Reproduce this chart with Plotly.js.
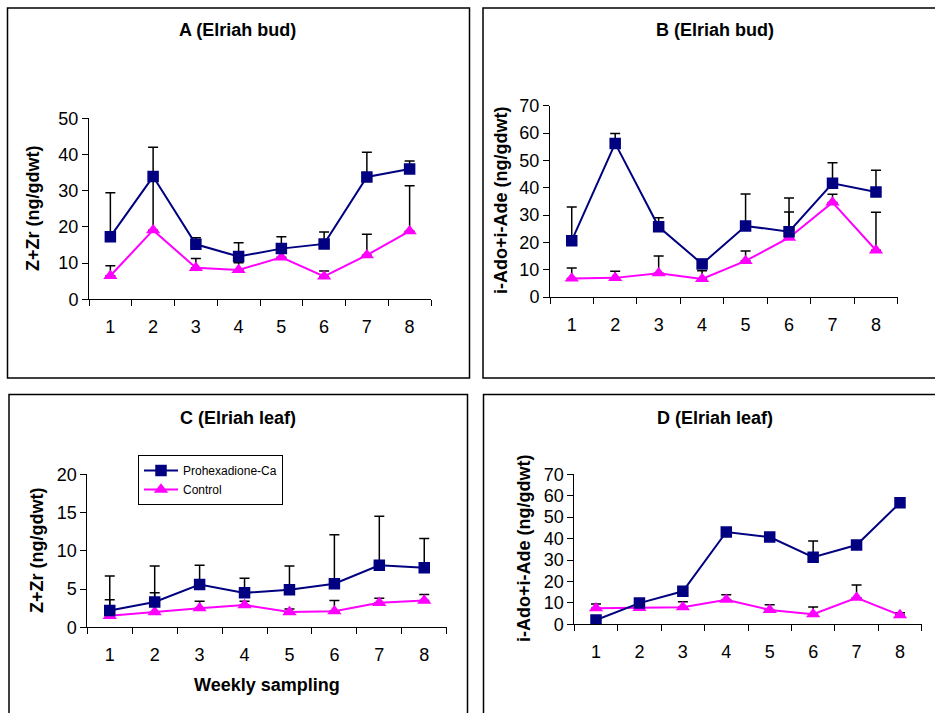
<!DOCTYPE html>
<html>
<head>
<meta charset="utf-8">
<script src="https://cdn.plot.ly/plotly-3.0.1.min.js"></script>
<style>html,body{margin:0;padding:0;background:#fff;}#chart{width:935px;height:713px;}</style>
</head>
<body>
<div id="chart"></div>
<script>
// ---- data ----
var weeks = [1, 2, 3, 4, 5, 6, 7, 8];
var seriesNames = ["Prohexadione-Ca", "Control"];
var panelTitles = ["A (Elriah bud)", "B (Elriah bud)", "C (Elriah leaf)", "D (Elriah leaf)"];
var yTitles = ["Z+Zr (ng/gdwt)", "i-Ado+i-Ade (ng/gdwt)", "Z+Zr (ng/gdwt)", "i-Ado+i-Ade (ng/gdwt)"];
var xTitle = "Weekly sampling";

var aPro    = [17.3, 33.9, 15.2, 11.8, 14.0, 15.3, 33.8, 36.0];
var aProErr = [12.1, 8.1, 1.8, 3.8, 3.3, 3.3, 6.8, 2.2];
var aCtl    = [6.5, 19.1, 8.7, 8.1, 11.6, 6.3, 12.2, 18.8];
var aCtlErr = [2.8, 14.0, 2.6, 2.0, 1.4, 1.5, 5.8, 12.6];

var bPro    = [20.6, 56.2, 25.7, 12.1, 26.0, 23.9, 41.6, 38.4];
var bProErr = [12.3, 3.6, 3.3, 1.0, 11.7, 12.3, 7.5, 8.0];
var bCtl    = [6.8, 7.0, 8.7, 6.6, 13.2, 21.7, 34.6, 17.1];
var bCtlErr = [3.8, 2.4, 6.3, 3.0, 3.6, 9.4, 3.0, 13.9];

var cPro    = [2.2, 3.3, 5.6, 4.5, 4.9, 5.7, 8.1, 7.8];
var cProErr = [4.5, 4.7, 2.5, 1.9, 3.1, 6.4, 6.4, 3.8];
var cCtl    = [1.5, 2.0, 2.5, 2.9, 2.0, 2.1, 3.2, 3.5];
var cCtlErr = [2.1, 2.5, 0.9, 0.5, 0.4, 1.4, 0.6, 0.8];

var dPro    = [2.0, 9.9, 15.4, 43.1, 40.7, 31.3, 37.0, 56.7];
var dProErr = [1.0, 1.0, 1.0, 1.0, 1.0, 7.6, 1.0, 1.8];
var dCtl    = [7.5, 7.7, 8.0, 11.5, 6.7, 4.7, 12.4, 4.3];
var dCtlErr = [2.0, 1.0, 2.5, 2.3, 2.4, 3.4, 5.9, 1.1];

var yMax = [50, 70, 20, 70];
var yStep = [10, 10, 5, 10];

// ---- layout helpers ----
var W = 935, H = 713;
function px(x) { return x / W; }
function py(y) { return 1 - y / H; }
var FONT = "Arial, 'Liberation Sans', sans-serif";
var proColor = "#000080", ctlColor = "#FF00FF";
var TICK_SIZE = 18, TITLE_SIZE = 18;

// plot-area boxes in pixels [left, right, top, bottom]
var boxes = [
  [89, 431, 118.3, 299.3],
  [550, 897.7, 105.7, 297],
  [87.3, 446.7, 474.3, 627.3],
  [574.3, 921.7, 474.3, 624.3]
];

var panels = [
  [aPro, aProErr, aCtl, aCtlErr],
  [bPro, bProErr, bCtl, bCtlErr],
  [cPro, cProErr, cCtl, cCtlErr],
  [dPro, dProErr, dCtl, dCtlErr]
];

var data = [];
var layout = {
  width: W, height: H,
  margin: {l: 0, r: 0, t: 0, b: 0},
  paper_bgcolor: "white", plot_bgcolor: "white",
  font: {family: FONT, color: "black"},
  showlegend: true,
  legend: {
    x: px(138), y: py(455), xanchor: "left", yanchor: "top",
    bordercolor: "black", borderwidth: 1, bgcolor: "white",
    font: {family: FONT, size: 12, color: "black"},
    tracegroupgap: 0, itemwidth: 34
  },
  shapes: [], annotations: []
};

function zeros(a) { return a.map(function () { return 0; }); }

panels.forEach(function (p, i) {
  var n = i + 1;
  var xs = n === 1 ? "x" : "x" + n, ys = n === 1 ? "y" : "y" + n;
  var b = boxes[i];
  // control first (drawn below), then treatment
  data.push({
    x: weeks, y: p[2], xaxis: xs, yaxis: ys, type: "scatter", mode: "lines+markers",
    name: seriesNames[1], legendrank: 2, showlegend: i === 2,
    line: {color: ctlColor, width: 2},
    marker: {symbol: "triangle-up", size: 12.5, color: ctlColor},
    error_y: {type: "data", symmetric: false, array: p[3], arrayminus: zeros(p[3]),
              color: "black", thickness: 1.5, width: 5}
  });
  data.push({
    x: weeks, y: p[0], xaxis: xs, yaxis: ys, type: "scatter", mode: "lines+markers",
    name: seriesNames[0], legendrank: 1, showlegend: i === 2,
    line: {color: proColor, width: 2},
    marker: {symbol: "square", size: 11.5, color: proColor},
    error_y: {type: "data", symmetric: false, array: p[1], arrayminus: zeros(p[1]),
              color: "black", thickness: 1.5, width: 5}
  });

  layout["xaxis" + (n === 1 ? "" : n)] = {
    domain: [px(b[0]), px(b[1])], anchor: ys,
    range: [0.5, 8.5], tickmode: "linear", tick0: 1, dtick: 1,
    ticks: "", showline: true, linecolor: "black", linewidth: 1,
    showgrid: false, zeroline: false, ticklabelstandoff: 11,
    tickfont: {family: FONT, size: TICK_SIZE, color: "black"},
    minor: {tickmode: "linear", tick0: 0.5, dtick: 1, ticks: "outside", ticklen: 6,
            tickwidth: 1, tickcolor: "black", showgrid: false}
  };
  layout["yaxis" + (n === 1 ? "" : n)] = {
    domain: [py(b[3]), py(b[2])], anchor: xs,
    range: [0, yMax[i]], tickmode: "linear", tick0: 0, dtick: yStep[i],
    ticks: "outside", ticklen: 6, tickwidth: 1, tickcolor: "black",
    showline: true, linecolor: "black", linewidth: 1,
    showgrid: false, zeroline: false,
    tickfont: {family: FONT, size: TICK_SIZE, color: "black"}
  };
});

// panel frames
var frames = [
  [7.5, 469.5, 8, 378],
  [483, 945, 8, 378],
  [9, 467.5, 394.5, 725],
  [483.5, 945, 394.5, 725]
];
frames.forEach(function (f) {
  layout.shapes.push({type: "rect", xref: "paper", yref: "paper",
    x0: px(f[0]), x1: px(f[1]), y0: py(f[3]), y1: py(f[2]),
    line: {color: "black", width: 1.5}, fillcolor: "rgba(0,0,0,0)", layer: "below"});
});

// panel titles
var titlePos = [[237, 30], [715, 30], [238, 418], [715, 418]];
titlePos.forEach(function (t, i) {
  layout.annotations.push({xref: "paper", yref: "paper", x: px(t[0]), y: py(t[1]),
    xanchor: "center", yanchor: "middle", showarrow: false,
    text: "<b>" + panelTitles[i] + "</b>", font: {family: FONT, size: TITLE_SIZE, color: "black"}});
});

// y-axis titles
var yTitlePos = [[33, 209], [501, 201], [37, 551], [524, 549]];
yTitlePos.forEach(function (t, i) {
  layout.annotations.push({xref: "paper", yref: "paper", x: px(t[0]), y: py(t[1]),
    xanchor: "center", yanchor: "middle", showarrow: false, textangle: -90,
    text: "<b>" + yTitles[i] + "</b>", font: {family: FONT, size: TITLE_SIZE, color: "black"}});
});

// x-axis title (panel C)
layout.annotations.push({xref: "paper", yref: "paper", x: px(267), y: py(685),
  xanchor: "center", yanchor: "middle", showarrow: false,
  text: "<b>" + xTitle + "</b>", font: {family: FONT, size: TITLE_SIZE, color: "black"}});

Plotly.newPlot("chart", data, layout, {displayModeBar: false, staticPlot: true});
</script>
</body>
</html>
